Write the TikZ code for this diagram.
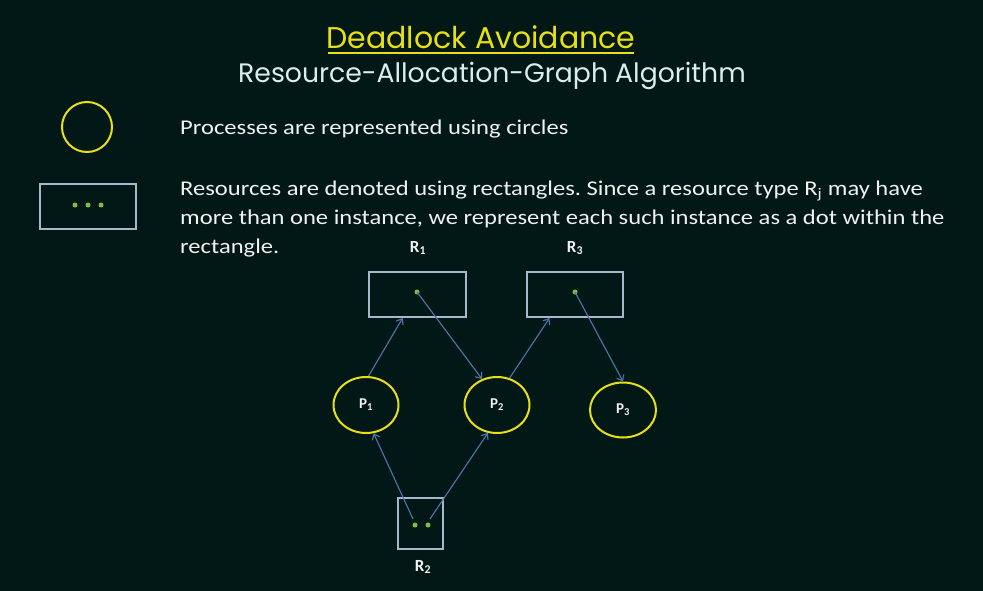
\documentclass[tikz,border=0pt]{standalone}
\usepackage{fontspec}
\setmainfont{Carlito}
\newfontfamily\titlefont{Poppins}
\newfontfamily\bodyfont[FakeStretch=1.17]{Carlito}
\newfontfamily\lblfont{Carlito}
\usetikzlibrary{shapes.geometric,arrows.meta,calc}
\definecolor{bg}{RGB}{2,24,22}
\definecolor{yel}{RGB}{232,224,20}
\definecolor{subt}{RGB}{214,240,236}
\definecolor{txt}{RGB}{240,242,240}
\definecolor{rectc}{RGB}{168,184,204}
\definecolor{dotc}{RGB}{124,192,64}
\definecolor{arr}{RGB}{75,120,176}
\frenchspacing
\begin{document}
\begin{tikzpicture}[x=1pt,y=-1pt,
  proc/.style={ellipse,draw=yel,line width=2pt,inner sep=0pt,text=txt,font=\lblfont\bfseries\fontsize{15}{17}\selectfont},
  res/.style={rectangle,draw=rectc,line width=2pt,inner sep=0pt},
  inst/.style={circle,fill=dotc,inner sep=0pt,minimum size=5pt},
  edge/.style={draw=arr,line width=1.1pt,-{Straight Barb[length=5pt,width=8pt]}},
  lbl/.style={text=txt,font=\lblfont\bfseries\fontsize{17}{19}\selectfont},
  body/.style={text=txt,anchor=base west,inner sep=0pt,font=\bodyfont\fontsize{21}{29}\selectfont}]
\fill[bg] (0,0) rectangle (983,591);
\useasboundingbox (0,0) rectangle (983,591);
% titles
\node[anchor=base,inner sep=0pt,text=yel,font=\titlefont\fontsize{30}{34}\selectfont] (title) at (481,49) {Deadlock Avoidance};
\draw[yel,line width=2pt] (328,53) -- (634,53);
\node[anchor=base,inner sep=0pt,text=subt,font=\titlefont\fontsize{26.7}{30}\selectfont] (subtitle) at (492,83) {Resource-Allocation-Graph Algorithm};
% legend
\node[circle,draw=yel,line width=2pt,minimum size=50pt,inner sep=0pt] (legc) at (87,127) {};
\node[res,minimum width=96pt,minimum height=45pt] (legr) at (88,206.5) {};
\node[inst] (ld1) at (75,205) {};
\node[inst] (ld2) at (88,205) {};
\node[inst] (ld3) at (101,205) {};
\node[body] (t1) at (180,135) {Processes are represented using circles};
\node[body] (t2) at (180,195) {Resources are denoted using rectangles. Since a resource type R\textsubscript{j} may have};
\node[body] (t3) at (180,224) {more than one instance, we represent each such instance as a dot within the};
\node[body] (t4) at (180,253) {rectangle.};
% graph
\node[res,minimum width=97pt,minimum height=45pt] (R1) at (417.5,294.5) {};
\node[res,minimum width=96pt,minimum height=45pt] (R3) at (575,294.5) {};
\node[res,minimum width=45pt,minimum height=51pt] (R2) at (420.5,523.5) {};
\node[inst] (R1d) at (417,292) {};
\node[inst] (R3d) at (575,292) {};
\node[inst] (R2a) at (415,525) {};
\node[inst] (R2b) at (428,525) {};
\node[lbl] (R1l) at (418,248) {R\textsubscript{1}};
\node[lbl] (R3l) at (575,248) {R\textsubscript{3}};
\node[lbl] (R2l) at (423,567) {R\textsubscript{2}};
\node[proc,minimum width=65pt,minimum height=56pt] (P1) at (366,405) {P\textsubscript{1}};
\node[proc,minimum width=65pt,minimum height=56pt] (P2) at (497,405) {P\textsubscript{2}};
\node[proc,minimum width=66pt,minimum height=55pt] (P3) at (623,410) {P\textsubscript{3}};
% edges
\draw[edge] (P1.85) -- ($(R1.south west)!0.35!(R1.south east)$);
\draw[edge] (R1d.center) -- (P2.120);
\draw[edge] (P2.65) -- ($(R3.south west)!0.24!(R3.south east)$);
\draw[edge] (R3d.center) -- (P3.north);
\draw[edge] ($(R2a.center)+(-2,-6)$) -- (P1.-75);
\draw[edge] ($(R2b.center)+(2,-6)$) -- (P2.-108);
\end{tikzpicture}
\end{document}
